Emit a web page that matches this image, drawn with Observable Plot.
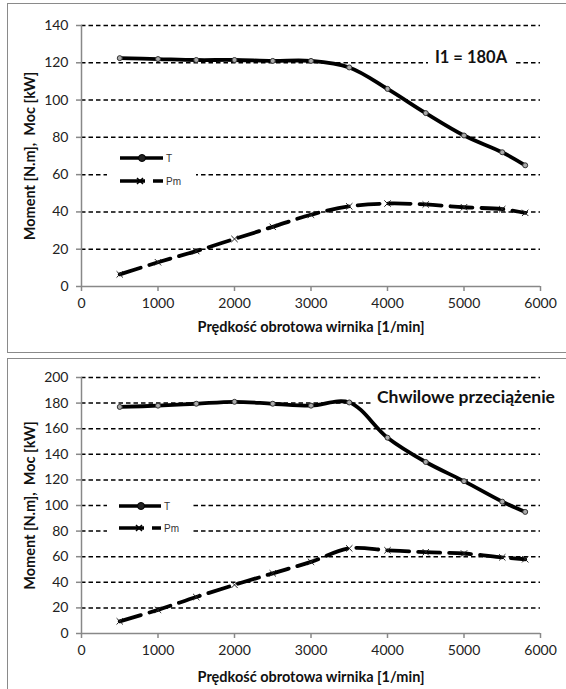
<!DOCTYPE html>
<html><head><meta charset="utf-8">
<script src="https://cdn.jsdelivr.net/npm/d3@7"></script>
<script src="https://cdn.jsdelivr.net/npm/@observablehq/plot@0.6"></script>
<style>
body{margin:0;background:#fff;width:566px;height:689px;overflow:hidden;position:relative;font-family:Lato,sans-serif}
.box{position:absolute;border:1px solid #8a8a8a;left:7px;width:620px;}
.chart{position:absolute;left:0}
.legend{position:absolute;background:#fff}
.legend text{font-family:"Liberation Sans",Arial,sans-serif;font-size:10px;fill:#333}
.note{position:absolute;background:#fff;font-weight:bold;font-size:16.5px;color:#111;white-space:nowrap;line-height:22px}
</style></head><body>
<div class="box" style="top:3px;height:348px"></div>
<div class="box" style="top:358px;height:400px"></div>
<div id="c1" class="chart" style="top:0"></div>
<div id="c2" class="chart" style="top:356px"></div>
<div class="note" style="left:428px;top:46px;width:86px;text-align:center">I1 = 180A</div>
<div class="note" style="left:372px;top:386px;width:194px;padding-left:5px;box-sizing:border-box;font-size:17.5px">Chwilowe przeciążenie</div>
<div class="legend" style="left:107px;top:147px;width:89px;height:44px">
<svg width="89" height="44">
<line x1="13" y1="11" x2="56" y2="11" stroke="#000" stroke-width="3.5"/>
<circle cx="35" cy="11" r="3.5" fill="#222" stroke="#000"/>
<text x="59" y="15">T</text>
<line x1="13" y1="34" x2="56" y2="34" stroke="#000" stroke-width="3.5" stroke-dasharray="25,8,12"/>
<path d="M30,31L36,37M36,31L30,37" stroke="#000" stroke-width="1.5"/>
<text x="59" y="38">Pm</text>
</svg></div>
<div class="legend" style="left:107px;top:495px;width:86px;height:45px">
<svg width="86" height="45">
<line x1="12" y1="11" x2="54" y2="11" stroke="#000" stroke-width="3.5"/>
<circle cx="34" cy="11" r="3.5" fill="#222" stroke="#000"/>
<text x="57" y="15">T</text>
<line x1="12" y1="33" x2="54" y2="33" stroke="#000" stroke-width="3.5" stroke-dasharray="25,8,12"/>
<path d="M29,30L35,36M35,30L29,36" stroke="#000" stroke-width="1.5"/>
<text x="57" y="37">Pm</text>
</svg></div>
<script>
const rpm = [500, 1000, 1500, 2000, 2500, 3000, 3500, 4000, 4500, 5000, 5500, 5800];
const T1 = [122.5, 122, 121.5, 121.5, 121, 121, 117.5, 106, 93, 81, 72, 65];
const P1 = [6.5, 13, 19, 25.5, 32, 38.5, 43, 44.5, 44, 42.5, 41.5, 39.5];
const T2 = [177, 178, 179.5, 181, 179.5, 178, 180.5, 153, 134, 119, 103, 95];
const P2 = [9.5, 18.5, 28.5, 38, 47, 56, 66.5, 65, 63.5, 62.5, 59.5, 58];
const xTicks = [0, 1000, 2000, 3000, 4000, 5000, 6000];
const yTicks1 = [0, 20, 40, 60, 80, 100, 120, 140];
const yTicks2 = [0, 20, 40, 60, 80, 100, 120, 140, 160, 180, 200];
const yTitle = "Moment [N.m],  Moc [kW]";
const xTitle = "Prędkość obrotowa wirnika [1/min]";

function chart(T, P, yTicks, height, mt, mb, titleDy) {
  const rows = rpm.map((r, i) => ({rpm: r, T: T[i], P: P[i]}));
  return Plot.plot({
    width: 566, height, marginLeft: 81, marginRight: 26, marginTop: mt, marginBottom: mb,
    style: {background: "transparent", fontFamily: "Lato, sans-serif", overflow: "visible"},
    x: {domain: [0, 6000]},
    y: {domain: [0, yTicks[yTicks.length - 1]]},
    marks: [
      Plot.ruleY(yTicks.filter(d => d > 0), {stroke: "#000", strokeWidth: 1.5, strokeDasharray: "4.5,3"}),
      Plot.ruleX([0], {stroke: "#888", strokeWidth: 1.5}),
      Plot.ruleY([0], {stroke: "#888", strokeWidth: 1.5}),
      Plot.axisY(yTicks, {tickSize: 5, tickPadding: 8, stroke: "#888", strokeWidth: 1.5, fill: "#222", fontSize: 14, label: null, tickFormat: d => String(d)}),
      Plot.axisX(xTicks, {tickSize: 5, tickPadding: 7, stroke: "#888", strokeWidth: 1.5, fill: "#222", fontSize: 14, label: null, tickFormat: d => String(d)}),
      Plot.text([yTitle], {text: d => d, frameAnchor: "left", dx: -51, rotate: -90, textAnchor: "middle", lineAnchor: "middle", fontWeight: "bold", fontSize: 14.5, fill: "#111"}),
      Plot.text([xTitle], {text: d => d, frameAnchor: "bottom", dy: titleDy, textAnchor: "middle", lineAnchor: "middle", fontWeight: "bold", fontSize: 14.5, fill: "#111"}),
      Plot.line(rows, {x: "rpm", y: "P", curve: "catmull-rom", stroke: "#000", strokeWidth: 3.8, strokeDasharray: "22,9"}),
      Plot.dot(rows, {x: "rpm", y: "P", symbol: "times", r: 3, stroke: "#222", strokeWidth: 1}),
      Plot.line(rows, {x: "rpm", y: "T", curve: "catmull-rom", stroke: "#000", strokeWidth: 3.8}),
      Plot.dot(rows, {x: "rpm", y: "T", r: 2.5, fill: "#aaa", stroke: "#333", strokeWidth: 1})
    ]
  });
}
document.getElementById("c1").append(chart(T1, P1, yTicks1, 352, 25, 66, 41));
document.getElementById("c2").append(chart(T2, P2, yTicks2, 333, 21, 56, 44));
</script>
</body></html>
